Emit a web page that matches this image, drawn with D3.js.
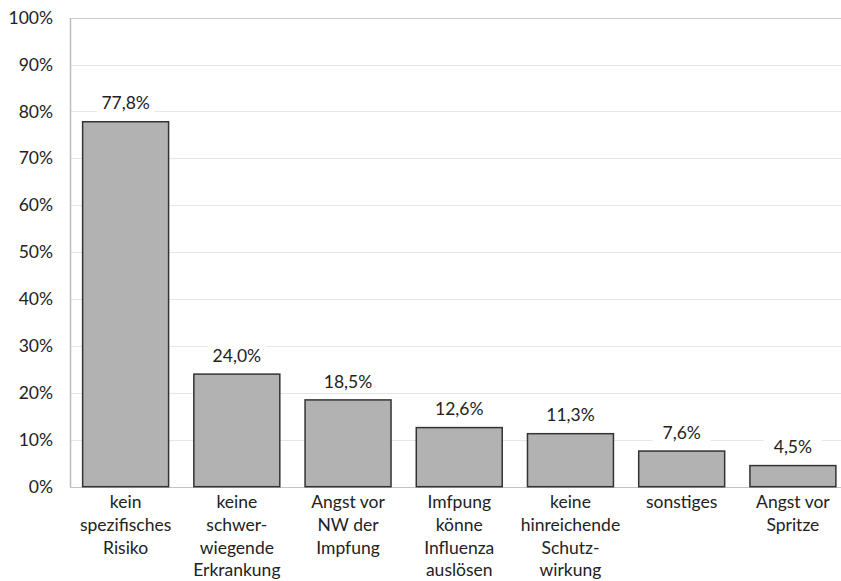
<!DOCTYPE html>
<html>
<head>
<meta charset="utf-8">
<script src="https://cdn.jsdelivr.net/npm/d3@7"></script>
<style>
  html, body { margin: 0; padding: 0; background: #fff; }
  svg { display: block; }
  text { font-family: Lato, "Open Sans", sans-serif; fill: #222; }
</style>
</head>
<body>
<svg id="chart" width="841" height="581"></svg>
<script>
// Reasons given against vaccination (share of respondents)
const categories = [
  ["kein", "spezifisches", "Risiko"],
  ["keine", "schwer-", "wiegende", "Erkrankung"],
  ["Angst vor", "NW der", "Impfung"],
  ["Imfpung", "könne", "Influenza", "auslösen"],
  ["keine", "hinreichende", "Schutz-", "wirkung"],
  ["sonstiges"],
  ["Angst vor", "Spritze"]
];
const values = [77.8, 24.0, 18.5, 12.6, 11.3, 7.6, 4.5];
const valueLabels = ["77,8%", "24,0%", "18,5%", "12,6%", "11,3%", "7,6%", "4,5%"];
const yTicks = [0, 10, 20, 30, 40, 50, 60, 70, 80, 90, 100];

const svg = d3.select("#chart");
const plotLeft = 70, plotRight = 848.5, plotTop = 17.6, plotBottom = 486.7;
const fontSize = "17.5px";

const x = d3.scaleBand()
  .domain(d3.range(values.length))
  .range([plotLeft, plotRight])
  .paddingInner(0.227)
  .paddingOuter(0.1135);

const y = d3.scaleLinear().domain([0, 100]).range([plotBottom, plotTop]);

// horizontal gridlines
svg.append("g")
  .selectAll("line")
  .data(yTicks)
  .join("line")
  .attr("x1", plotLeft).attr("x2", 841)
  .attr("y1", d => Math.round(y(d)) + 0.5)
  .attr("y2", d => Math.round(y(d)) + 0.5)
  .attr("stroke", d => d === 100 ? "#cfcfcf" : (d === 0 ? "#c4c4c4" : "#e6e6e6"))
  .attr("stroke-width", 1.2);

// y axis
const yAxis = d3.axisLeft(y)
  .tickValues(yTicks)
  .tickFormat(d => d + "%")
  .tickSize(0)
  .tickPadding(17);
const gy = svg.append("g")
  .attr("transform", `translate(${plotLeft},0)`)
  .call(yAxis);
gy.select(".domain").attr("stroke", "#bdbdbd").attr("stroke-width", 1.5);
gy.selectAll("text")
  .style("font-size", fontSize)
  .attr("fill", "#222");

// bars
svg.append("g")
  .selectAll("rect")
  .data(values)
  .join("rect")
  .attr("x", (d, i) => x(i))
  .attr("y", d => y(d))
  .attr("width", x.bandwidth())
  .attr("height", d => y(0) - y(d))
  .attr("fill", "#b2b2b2")
  .attr("stroke", "#333")
  .attr("stroke-width", 1.5);

// value labels with white backing
const lbl = svg.append("g")
  .selectAll("g")
  .data(values)
  .join("g")
  .attr("transform", (d, i) => `translate(${x(i) + x.bandwidth() / 2},${y(d) - 12.4})`);
lbl.append("rect")
  .attr("x", -29).attr("y", -18)
  .attr("width", 58).attr("height", 23)
  .attr("fill", "#fff");
lbl.append("text")
  .attr("text-anchor", "middle")
  .style("font-size", fontSize)
  .text((d, i) => valueLabels[i]);

// category labels
const cat = svg.append("g")
  .selectAll("text")
  .data(categories)
  .join("text")
  .attr("text-anchor", "middle")
  .attr("transform", (d, i) => `translate(${x(i) + x.bandwidth() / 2},508)`)
  .style("font-size", fontSize);
cat.selectAll("tspan")
  .data(d => d)
  .join("tspan")
  .attr("x", 0)
  .attr("y", (d, j) => j * 22.8)
  .text(d => d);
</script>
</body>
</html>
